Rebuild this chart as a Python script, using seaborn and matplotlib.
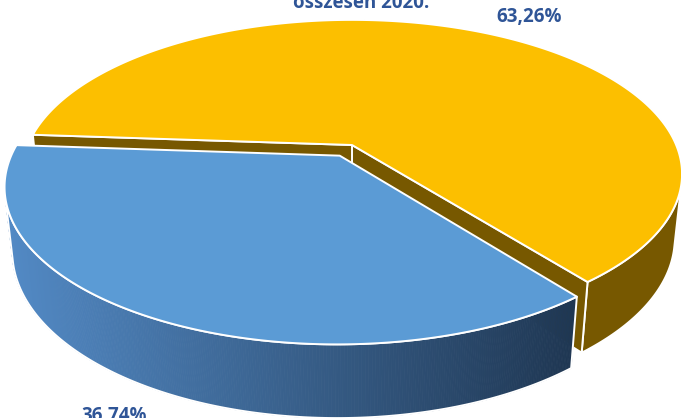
import numpy as np
import matplotlib
matplotlib.use("Agg")
import matplotlib.pyplot as plt
import seaborn as sns
from matplotlib.colors import to_rgb

sns.set_theme(style="white")
plt.rcParams['font.family'] = ['Open Sans', 'DejaVu Sans']

# ---- data ----
categories = ["Sorozat A", "Sorozat B"]
values = [63.26, 36.74]
value_labels = ["63,26%", "36,74%"]
title = "összesen 2020."

top_colors = ["#FCBF00", "#5B9BD5"]
wall_colors = ["#775800", None]
blue_wall_grad = ("#5289C4", "#1F3753")
label_color = "#2F5597"

# ---- 3D perspective geometry ----
ALPHA = np.deg2rad(27.3)
SA, CA = np.sin(ALPHA), np.cos(ALPHA)
DIST, FOC = 4.72, 1530.0
CX, CY = 352.0, 145.0
H = 0.225


def proj(x, y, z):
    x = np.asarray(x, float); y = np.asarray(y, float); z = np.asarray(z, float)
    yc = (y + DIST * CA) * SA + (z - DIST * SA) * CA
    zc = (y + DIST * CA) * CA - (z - DIST * SA) * SA
    return CX + FOC * x / zc, CY - FOC * yc / zc


fig = plt.figure(figsize=(6.81, 4.18), dpi=100)
ax = fig.add_axes([0, 0, 1, 1])
ax.set_xlim(0, 681)
ax.set_ylim(418, 0)
ax.axis('off')

spans = np.array(values) / np.sum(values) * 360.0
blue_start = 176.0
ranges = {1: (blue_start, blue_start + spans[1]),
          0: (blue_start + spans[1], blue_start + 360.0)}
explode = [0.0, 0.08]

EDGE = dict(edgecolor="white", linewidth=1.4, joinstyle="round")


def slice_geom(i):
    a0, a1 = np.deg2rad(ranges[i][0]), np.deg2rad(ranges[i][1])
    mid = (a0 + a1) / 2
    ox, oy = explode[i] * np.cos(mid), explode[i] * np.sin(mid)
    return a0, a1, ox, oy


def visible_wall(a0, a1, ox, oy):
    phi = np.linspace(a0, a1, 400)
    facing = -1 - ox * np.cos(phi) - (DIST * CA + oy) * np.sin(phi) > 0
    return phi[facing]


def draw_outer_wall(i, gradient=None):
    a0, a1, ox, oy = slice_geom(i)
    phi = visible_wall(a0, a1, ox, oy)
    if len(phi) < 2:
        return
    xt, yt = proj(ox + np.cos(phi), oy + np.sin(phi), 0 * phi)
    xb, yb = proj(ox + np.cos(phi), oy + np.sin(phi), 0 * phi - H)
    if gradient is None:
        ax.fill(np.r_[xt, xb[::-1]], np.r_[yt, yb[::-1]],
                facecolor=wall_colors[i], zorder=2, **EDGE)
    else:
        c0, c1 = np.array(to_rgb(gradient[0])), np.array(to_rgb(gradient[1]))
        xmin, xmax = 10.0, 575.0
        for k in range(len(phi) - 1):
            xm = (xt[k] + xt[k + 1]) / 2
            t = np.clip((xm - xmin) / (xmax - xmin), 0, 1)
            col = c0 + (c1 - c0) * t
            ax.fill([xt[k], xt[k + 1], xb[k + 1], xb[k]],
                    [yt[k], yt[k + 1], yb[k + 1], yb[k]],
                    facecolor=col, edgecolor=col, linewidth=0.6, zorder=4)
        ax.fill(np.r_[xt, xb[::-1]], np.r_[yt, yb[::-1]],
                facecolor="none", zorder=4.5, **EDGE)


def draw_radial_walls(i):
    a0, a1, ox, oy = slice_geom(i)
    cam = np.array([0 - ox, -DIST * CA - oy])
    for a in (a0, a1):
        xs = [ox, ox + np.cos(a), ox + np.cos(a), ox]
        ys = [oy, oy + np.sin(a), oy + np.sin(a), oy]
        zs = [0, 0, -H, -H]
        px, py = proj(xs, ys, zs)
        if a == a0:
            nrm = np.array([np.sin(a), -np.cos(a)])
        else:
            nrm = np.array([-np.sin(a), np.cos(a)])
        if nrm @ cam > 0:
            ax.fill(px, py, facecolor=wall_colors[i], zorder=2.5, **EDGE)


def draw_top(i, z):
    a0, a1, ox, oy = slice_geom(i)
    phi = np.linspace(a0, a1, 400)
    xs = np.r_[ox, ox + np.cos(phi)]
    ys = np.r_[oy, oy + np.sin(phi)]
    px, py = proj(xs, ys, 0 * xs)
    ax.fill(px, py, facecolor=top_colors[i], zorder=z, **EDGE)


# yellow slice (behind)
draw_outer_wall(0)
draw_radial_walls(0)
draw_top(0, 3)
# blue slice (front, exploded)
draw_outer_wall(1, gradient=blue_wall_grad)
draw_top(1, 5)

# ---- labels ----
font = dict(fontsize=13.5, fontweight="bold", color=label_color)
ax.text(361, 8, title, ha="center", va="baseline", zorder=10, **font)
ax.text(529, 22, value_labels[0], ha="center", va="baseline", zorder=10, **font)
ax.text(114, 421, value_labels[1], ha="center", va="baseline", zorder=10, **font)

fig.savefig("out.png", dpi=100)
